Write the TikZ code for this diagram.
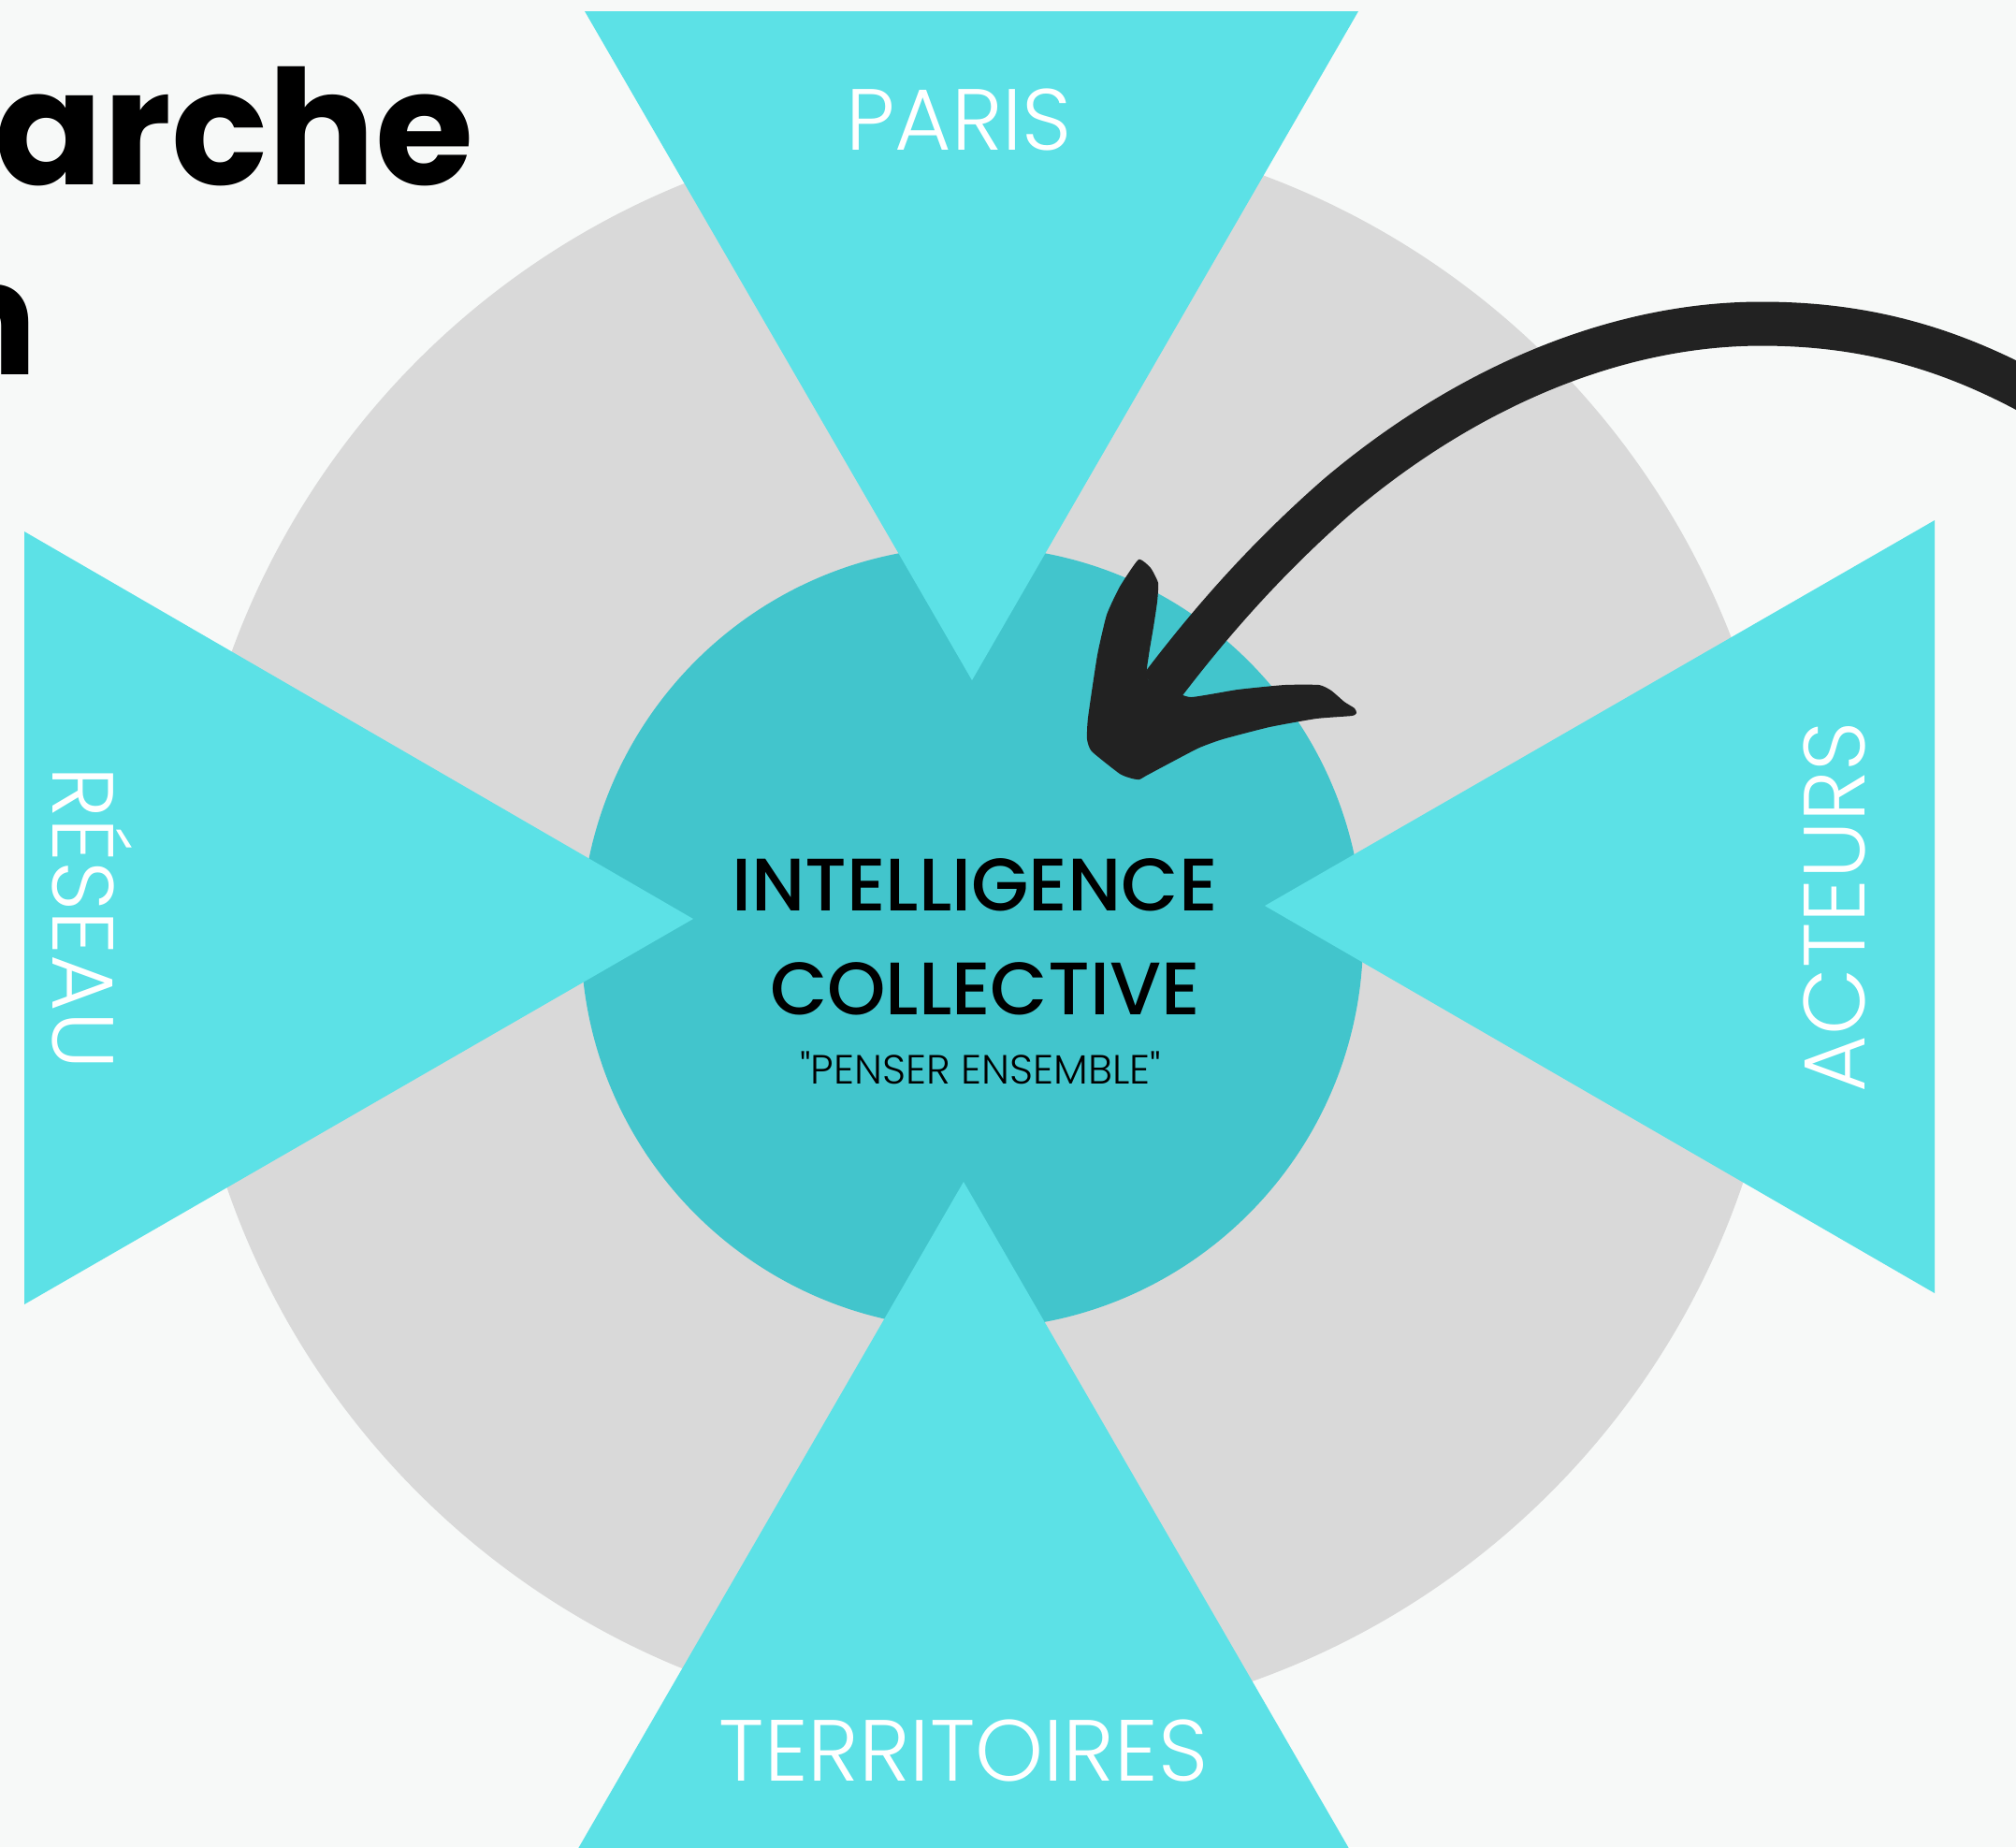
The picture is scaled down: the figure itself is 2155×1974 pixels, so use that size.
\documentclass[tikz,border=0pt]{standalone}
\usepackage{fontspec}
\setmainfont{Poppins}
\newfontfamily\thinfont{Poppins Light}
\newfontfamily\midfont{Poppins Medium}
\newfontfamily\heavyfont{Poppins Bold}
\usetikzlibrary{calc}

\definecolor{paperbg}{HTML}{F7F9F8}
\definecolor{ringgray}{HTML}{D9D9D9}
\definecolor{coreteal}{HTML}{42C5CC}
\definecolor{wedgecyan}{HTML}{5CE1E6}
\definecolor{brushink}{HTML}{222222}

\begin{document}
\begin{tikzpicture}[x=0.01cm,y=-0.01cm,
    wedgelabel/.style={text=white,inner sep=0pt,anchor=base,
        font=\thinfont\fontsize{26.4}{30}\selectfont},
    corelabel/.style={text=black,inner sep=0pt,anchor=base,
        font=\midfont\fontsize{22.6}{26}\selectfont},
    titlepart/.style={inner sep=0pt,anchor=base east,
        font=\heavyfont\fontsize{48.5}{55}\selectfont}]
    % Define parameters of the layout
    \def\R{856}
    \def\r{418}

    % Draw page
    \fill[paperbg] (0,0) rectangle (2155,1974);
    \useasboundingbox (0,0) rectangle (2155,1974);

    % Draw outer ring and core
    \fill[ringgray] (1052,990) circle (\R);
    \fill[coreteal] (1039,1002) circle (\r);

    % Draw the four wedges
    \fill[wedgecyan] (625,12) -- (1452,12) -- (1039,727) -- cycle;
    \fill[wedgecyan] (26,568) -- (26,1394) -- (741,982) -- cycle;
    \fill[wedgecyan] (2068,556) -- (2068,1382) -- (1352,968) -- cycle;
    \fill[wedgecyan] (616,1979) -- (1444,1979) -- (1030,1263) -- cycle;

    % Draw brush arrow
    \draw[brushink, line width=0.47cm]
        (2175,422) .. controls (2080,370) and (1990,346) .. (1883,346)
        .. controls (1720,346) and (1560,420) .. (1430,530)
        .. controls (1350,600) and (1290,670) .. (1240,736);
    \fill[brushink] plot[smooth cycle, tension=0.3] coordinates {
        (1217,598) (1230,607) (1238,623) (1237,643) (1233,670) (1228,700)
        (1226,725) (1250,737) (1273,745) (1323,737) (1373,732) (1410,732)
        (1423,738) (1437,750) (1448,757) (1450,762) (1445,765) (1407,768)
        (1357,777) (1307,790) (1280,800) (1227,828) (1218,833) (1210,832)
        (1197,827) (1167,803) (1162,790) (1163,767) (1173,700) (1183,657)
        (1197,627)};

    % Draw wedge labels
    \node[wedgelabel] (paris) at (1025,160) {PARIS};
    \node[wedgelabel] (territoires) at (1030,1903) {TERRITOIRES};
    \node[wedgelabel, rotate=-90] (reseau) at (56,981) {RÉSEAU};
    \node[wedgelabel, rotate=90] (acteurs) at (1993,969) {ACTEURS};

    % Draw core labels
    \node[corelabel] (intel) at (1042,973) {INTELLIGENCE};
    \node[corelabel] (collect) at (1053,1084) {COLLECTIVE};
    \node[corelabel, font=\thinfont\fontsize{12.4}{15}\selectfont]
        (motto) at (1048,1158) {"PENSER ENSEMBLE"};

    % Draw cut title
    \node[titlepart] (titleA) at (507,197) {arche};
    \node[titlepart] (titleB) at (41,400) {n};

\end{tikzpicture}
\end{document}
